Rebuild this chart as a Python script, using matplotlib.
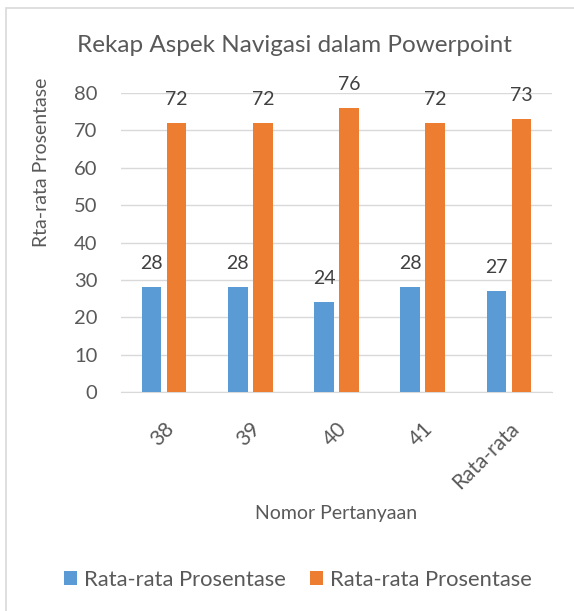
import numpy as np
import matplotlib.pyplot as plt
from matplotlib.patches import Rectangle

plt.rcParams['font.family'] = ['Lato', 'DejaVu Sans']

categories = ['38', '39', '40', '41', 'Rata-rata']
series_blue = [28, 28, 24, 28, 27]
series_orange = [72, 72, 76, 72, 73]
series_names = ['Rata-rata Prosentase', 'Rata-rata Prosentase']

blue = '#5B9BD5'
orange = '#ED7D31'
text_col = '#595959'

W, H = 574, 611
fig = plt.figure(figsize=(W / 100, H / 100), dpi=100)
ax = fig.add_axes([121 / W, 1 - 392 / H, 431 / W, 299 / H])

# chart border (only top/left visible in the reference)
fig.patches.append(Rectangle((6 / W, -0.1), 1.2, 1 - 8 / H + 0.1, transform=fig.transFigure,
                             fill=False, edgecolor='#D9D9D9', linewidth=1.2))

x = np.arange(len(categories))
w = 0.226
off = 0.145
b1 = ax.bar(x - off, series_blue, w, color=blue, label=series_names[0], zorder=3)
b2 = ax.bar(x + off, series_orange, w, color=orange, label=series_names[1], zorder=3)

for bars in (b1, b2):
    for rect in bars:
        ax.annotate(f'{rect.get_height():.0f}', (rect.get_x() + rect.get_width() / 2, rect.get_height()),
                    xytext=(0, 11), textcoords='offset points', ha='center', va='bottom',
                    fontsize=14, color='#404040')

ax.set_ylim(0, 80)
ax.set_xlim(-0.5, len(categories) - 0.5)
ax.set_yticks(np.arange(0, 81, 10))
ax.grid(axis='y', color='#D9D9D9', linewidth=1, zorder=0)
for s in ['top', 'right', 'left']:
    ax.spines[s].set_visible(False)
ax.spines['bottom'].set_color('#D9D9D9')
ax.tick_params(axis='both', length=0, labelsize=14.5, labelcolor=text_col)
ax.tick_params(axis='y', pad=17)
ax.set_xticks(x)
ax.set_xticklabels(categories, rotation=45, ha='right', rotation_mode='anchor')
ax.tick_params(axis='x', pad=19, labelsize=15)

fig.text(42 / W, 1 - 162 / H, 'Rta-rata Prosentase', rotation=90, ha='center', va='center',
         fontsize=14, color=text_col)
fig.text(336 / W, 1 - 514 / H, 'Nomor Pertanyaan', ha='center', va='center', fontsize=14, color=text_col)
fig.text(294 / W, 1 - 45 / H, 'Rekap Aspek Navigasi dalam Powerpoint', ha='center', va='center',
         fontsize=17.5, color=text_col)

fig.legend(handles=[b1, b2], labels=series_names, loc='center', bbox_to_anchor=(298 / W, 1 - 580 / H),
           ncol=2, frameon=False, fontsize=15.8, labelcolor=text_col, handlelength=0.6,
           handleheight=0.6, handletextpad=0.3, columnspacing=1.1)

fig.savefig('out.png', dpi=100)
